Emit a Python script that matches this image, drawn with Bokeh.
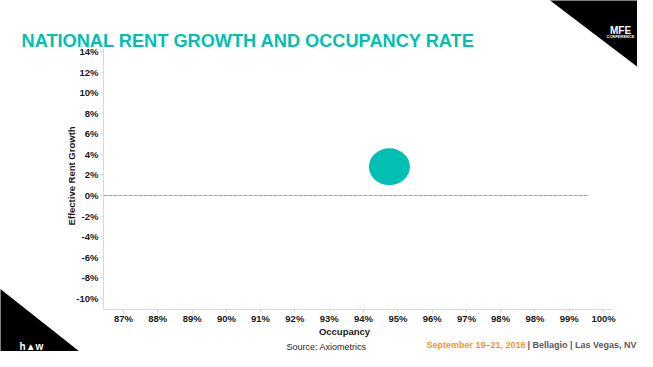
from bokeh.plotting import figure
from bokeh.models import FixedTicker, Range1d, PrintfTickFormatter, Column
from bokeh.core.properties import value
from bokeh.embed import file_html
from bokeh.resources import INLINE

# ---- data ----
occupancy = [94.2]          # %
rent_growth = [2.8]         # %
x_ticks = [87, 87.93, 88.86, 89.79, 90.71, 91.64, 92.57, 93.5, 94.43,
           95.36, 96.29, 97.21, 98.14, 99.07, 100]
x_tick_labels = ["87%", "88%", "89%", "90%", "91%", "92%", "93%", "94%",
                 "95%", "96%", "97%", "98%", "98%", "99%", "100%"]
y_ticks = [-10, -8, -6, -4, -2, 0, 2, 4, 6, 8, 10, 12, 14]

TEAL = "#00BFB3"
FONT = "Liberation Sans"
W, H = 637, 351

# ---- background "slide" layer (pixel coordinates, y downward) ----
bg = figure(width=W, height=H, output_backend="svg", toolbar_location=None,
            x_range=Range1d(0, W), y_range=Range1d(H, 0),
            x_axis_type=None, y_axis_type=None, min_border=0)
bg.frame_align = False
bg.title.visible = False
bg.outline_line_color = None
bg.grid.visible = False
bg.background_fill_color = "white"
bg.border_fill_color = "white"

bg.patch(x=[547, 660, 660], y=[-2, -2, 84], fill_color="black", line_color=None)
bg.patch(x=[-2, -2, 103], y=[287, 370, 370], fill_color="black", line_color=None)

def txt(t, x, y, size, color, style="bold", align="left", font=FONT):
    bg.text(x=[x], y=[y], text=[t], text_font=value(font), text_font_size=size,
            text_font_style=style, text_color=color, text_align=align,
            text_baseline="alphabetic")

txt("NATIONAL RENT GROWTH AND OCCUPANCY RATE", 21, 40.5, "18.2px", TEAL)
txt("MFE", 620, 30, "10px", "white", align="center")
txt("CONFERENCE", 620, 36, "4px", "white", align="center")
txt("h\u25b2w", 31, 346, "10px", "white", align="center")
txt("Occupancy", 344, 330.5, "9.5px", "#1a1a1a", align="center")
txt("September 19\u201321, 2016", 426, 344.5, "9px", "#F7941D")
txt("| Bellagio | Las Vegas, NV", 636, 344.5, "9px", "#595959", align="right")
txt("Source: Axiometrics", 326, 346, "9px", "#262626", style="normal", align="center")

# ---- chart layer ----
p = figure(width=W, height=H, output_backend="svg", toolbar_location=None,
           x_range=Range1d(86.46, 100.24), y_range=Range1d(-11.07, 14.87),
           min_border_left=103, min_border_right=25, min_border_top=42, min_border_bottom=42)
p.frame_align = False
p.title.visible = False
p.outline_line_color = None
p.grid.visible = False
p.background_fill_color = None
p.border_fill_color = None

for ax in (p.xaxis[0], p.yaxis[0]):
    ax.axis_line_color = "#D9D9D9"
    ax.major_tick_line_color = "#D9D9D9"
    ax.minor_tick_line_color = None
    ax.major_tick_in = 0
    ax.major_tick_out = 3
    ax.major_label_standoff = 2
    ax.major_label_text_font = FONT
    ax.major_label_text_font_style = "bold"
    ax.major_label_text_font_size = "9.5px"
    ax.major_label_text_color = "#1a1a1a"
    ax.axis_label_text_font = FONT
    ax.axis_label_text_font_style = "bold"
    ax.axis_label_text_font_size = "9.5px"
    ax.axis_label_text_color = "#1a1a1a"

p.xaxis.major_label_standoff = 0
p.xaxis.ticker = FixedTicker(ticks=x_ticks)
p.xaxis.major_label_overrides = dict(zip(x_ticks, x_tick_labels))
p.yaxis.ticker = FixedTicker(ticks=y_ticks)
p.yaxis.formatter = PrintfTickFormatter(format="%d%%")
p.yaxis.axis_label = "Effective Rent Growth"
p.yaxis.axis_label_standoff = -4

# zero line (dashed)
p.segment(x0=[86.46], y0=[0], x1=[99.59], y1=[0], line_color="#9a9a9a",
          line_width=1, line_dash="4 1")

# bubble
p.ellipse(x=occupancy, y=rent_growth, width=41, height=37,
          width_units="screen", height_units="screen",
          fill_color=TEAL, line_color=None)

p.styles = {"position": "absolute", "left": "0px", "top": "0px"}
root = Column(children=[bg, p], styles={"position": "relative"})

open("out.html", "w").write(file_html(root, INLINE))
